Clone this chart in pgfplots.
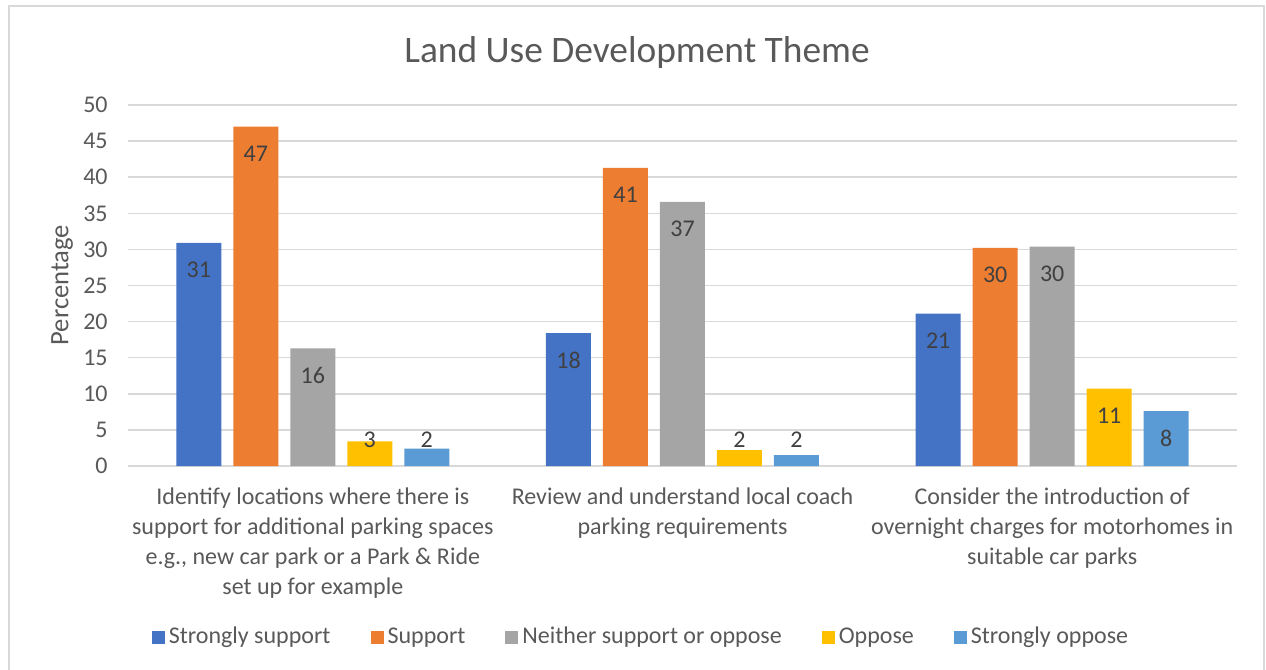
\documentclass[border=0pt]{standalone}
\usepackage{pgfplots}
\pgfplotsset{compat=1.18}
\usepackage{fontspec}
\setmainfont{Carlito}
\definecolor{c1}{HTML}{4472C4}
\definecolor{c2}{HTML}{ED7D31}
\definecolor{c3}{HTML}{A5A5A5}
\definecolor{c4}{HTML}{FFC000}
\definecolor{c5}{HTML}{5B9BD5}
\definecolor{txt}{HTML}{595959}
\definecolor{lbl}{HTML}{404040}
\definecolor{grd}{HTML}{D9D9D9}
\pgfplotsset{legsq/.style={legend image code/.code={\fill[##1] (0pt,-3.25pt) rectangle (6.5pt,3.25pt);}}}
\begin{document}
\begin{tikzpicture}
\useasboundingbox (-64pt,-102pt) rectangle (569pt,233pt);
\draw[grd, line width=1pt] (-59.5pt,-110pt) -- (-59.5pt,230pt) -- (568pt,230pt) -- (568pt,-110pt);
\begin{axis}[
  scale only axis,
  width=554.5pt, height=180.5pt,
  xmin=-0.5, xmax=2.5, ymin=0, ymax=50,
  ytick={0,5,...,50},
  xtick={0,1,2},
  xticklabels={{Identify locations where there is\\support for additional parking spaces\\e.g., new car park or a Park \& Ride\\set up for example},
               {Review and understand local coach\\parking requirements},
               {Consider the introduction of\\overnight charges for motorhomes in\\suitable car parks}},
  major tick length=0pt,
  axis line style={draw=none},
  ymajorgrids,
  grid style={grd, line width=0.75pt},
  /pgf/number format/assume math mode=true,
  tick label style={font=\fontsize{12}{15}\selectfont, text=txt},
  yticklabel style={inner sep=0pt, xshift=-10pt},
  xticklabel style={align=center, anchor=north, inner sep=0pt, yshift=-10.5pt},
  ylabel={Percentage},
  every axis y label/.style={at={(axis description cs:-0.0595,0.501)}, rotate=90, anchor=center, font=\fontsize{13.3}{16}\selectfont, text=txt},
  every axis title shift=0pt,
  title={Land Use Development Theme},
  title style={at={(axis description cs:0.459,1.144)}, anchor=center, font=\fontsize{18.7}{22}\selectfont, text=txt},
  ybar=6pt, bar width=22.5pt,
  visualization depends on={y \as \rawy},
  nodes near coords={\pgfmathprintnumber[fixed,precision=0]{\pgfplotspointmeta}},
  nodes near coords style={anchor=center, font=\fontsize{12}{14}\selectfont, text=lbl, yshift={max(-13.5,13-3.61*\rawy)*1pt}},
  legend columns=5,
  legend style={draw=none, at={(0.4635,-0.4737)}, anchor=center, font=\fontsize{12}{14}\selectfont, text=txt,
    /tikz/every even column/.append style={column sep=18pt}},
]
\addplot[fill=c1, draw=none, legsq] coordinates {(0,30.9) (1,18.4) (2,21.1)};
\addplot[fill=c2, draw=none, legsq] coordinates {(0,47.0) (1,41.3) (2,30.2)};
\addplot[fill=c3, draw=none, legsq] coordinates {(0,16.3) (1,36.6) (2,30.4)};
\addplot[fill=c4, draw=none, legsq] coordinates {(0,3.4) (1,2.2) (2,10.7)};
\addplot[fill=c5, draw=none, legsq] coordinates {(0,2.4) (1,1.5) (2,7.6)};
\legend{Strongly support, Support, Neither support or oppose, Oppose, Strongly oppose}
\end{axis}
\end{tikzpicture}
\end{document}
